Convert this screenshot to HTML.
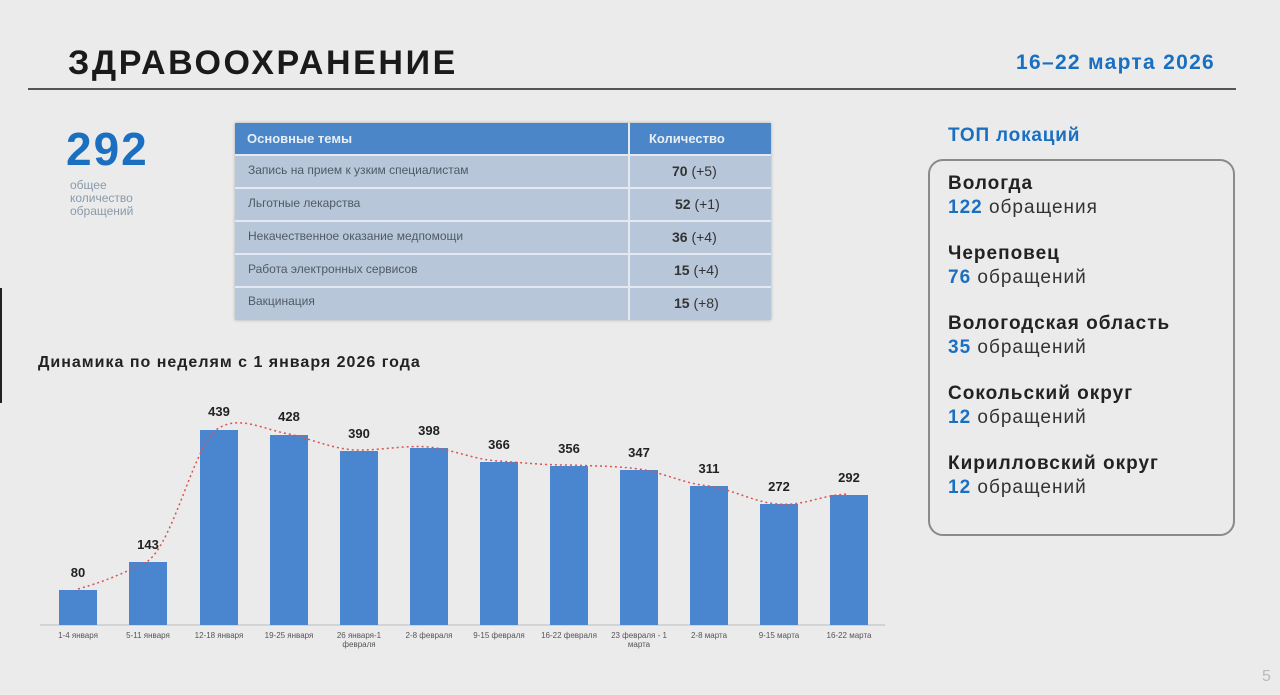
<!DOCTYPE html>
<html><head><meta charset="utf-8"><style>
body{margin:0;width:1280px;height:695px;background:#ebebeb;font-family:"Liberation Sans",sans-serif;position:relative;overflow:hidden}
.a{position:absolute}
</style></head><body>
<div class="a" style="left:68px;top:44px;font-size:34px;font-weight:bold;color:#1a1a1a;letter-spacing:2.6px">ЗДРАВООХРАНЕНИЕ</div>
<div class="a" style="left:1016px;top:51px;font-size:21px;font-weight:bold;color:#1a6fc0;letter-spacing:1.3px">16–22 марта 2026</div>
<div class="a" style="left:28px;top:88px;width:1208px;height:2px;background:#555"></div>
<div class="a" style="left:0;top:288px;width:2px;height:115px;background:#222"></div>
<div class="a" style="left:66px;top:122px;font-size:46px;font-weight:bold;color:#1a6fc0;letter-spacing:2px">292</div>
<div class="a" style="left:70px;top:179px;font-size:12px;line-height:13px;color:#8a9aaa">общее<br>количество<br>обращений</div>
<div class="a" style="left:235px;top:123px;width:536px;height:197px;background:#b7c6d8;box-shadow:0 0 3px #aaa"></div>
<div class="a" style="left:235px;top:123px;width:536px;height:31px;background:#4a86c8"></div>
<div class="a" style="left:628px;top:123px;width:2px;height:197px;background:#e4e9f0"></div>
<div class="a" style="left:247px;top:131px;font-size:13px;font-weight:bold;color:#e8eef6">Основные темы</div>
<div class="a" style="left:649px;top:131px;font-size:13px;font-weight:bold;color:#e8eef6">Количество</div>
<div class="a" style="left:235px;top:154px;width:536px;height:2px;background:#e4e9f0"></div>
<div class="a" style="left:235px;top:187px;width:536px;height:2px;background:#e4e9f0"></div>
<div class="a" style="left:235px;top:220px;width:536px;height:2px;background:#e4e9f0"></div>
<div class="a" style="left:235px;top:253px;width:536px;height:2px;background:#e4e9f0"></div>
<div class="a" style="left:235px;top:286px;width:536px;height:2px;background:#e4e9f0"></div>
<div class="a" style="left:248px;top:163px;font-size:12px;color:#505a66">Запись на прием к узким специалистам</div>
<div class="a" style="left:248px;top:196px;font-size:12px;color:#505a66">Льготные лекарства</div>
<div class="a" style="left:248px;top:229px;font-size:12px;color:#505a66">Некачественное оказание медпомощи</div>
<div class="a" style="left:248px;top:262px;font-size:12px;color:#505a66">Работа электронных сервисов</div>
<div class="a" style="left:248px;top:294px;font-size:12px;color:#505a66">Вакцинация</div>
<div class="a" style="left:672px;top:163px;font-size:14px;color:#333"><b>70</b> (+5)</div>
<div class="a" style="left:675px;top:196px;font-size:14px;color:#333"><b>52</b> (+1)</div>
<div class="a" style="left:672px;top:229px;font-size:14px;color:#333"><b>36</b> (+4)</div>
<div class="a" style="left:674px;top:262px;font-size:14px;color:#333"><b>15</b> (+4)</div>
<div class="a" style="left:674px;top:295px;font-size:14px;color:#333"><b>15</b> (+8)</div>
<div class="a" style="left:38px;top:354px;font-size:16px;font-weight:bold;color:#222;letter-spacing:1px">Динамика по неделям с 1 января 2026 года</div>
<div class="a" style="left:948px;top:125px;font-size:19px;font-weight:bold;color:#1a6fc0;letter-spacing:0.8px">ТОП локаций</div>
<div class="a" style="left:928px;top:159px;width:303px;height:373px;border:2px solid #8a8a8a;border-radius:15px"></div>
<div class="a" style="left:948px;top:172px;font-size:19px;line-height:24px;color:#333;letter-spacing:1px">
<div style="margin-bottom:22px"><b style="color:#222">Вологда</b><br><b style="color:#1a6fc0">122</b> обращения</div>
<div style="margin-bottom:22px"><b style="color:#222">Череповец</b><br><b style="color:#1a6fc0">76</b> обращений</div>
<div style="margin-bottom:22px"><b style="color:#222">Вологодская область</b><br><b style="color:#1a6fc0">35</b> обращений</div>
<div style="margin-bottom:22px"><b style="color:#222">Сокольский округ</b><br><b style="color:#1a6fc0">12</b> обращений</div>
<div><b style="color:#222">Кирилловский округ</b><br><b style="color:#1a6fc0">12</b> обращений</div>
</div>
<div class="a" style="left:1262px;top:668px;font-size:16px;color:#bbb">5</div>
<svg class="a" style="left:0;top:0" width="1280" height="695">
<line x1="40" y1="625" x2="885" y2="625" stroke="#bbb" stroke-width="1"/>
<g fill="#4a86cf">
<rect x="59" y="590" width="38" height="35"/>
<rect x="129" y="562" width="38" height="63"/>
<rect x="200" y="430" width="38" height="195"/>
<rect x="270" y="435" width="38" height="190"/>
<rect x="340" y="451" width="38" height="174"/>
<rect x="410" y="448" width="38" height="177"/>
<rect x="480" y="462" width="38" height="163"/>
<rect x="550" y="466" width="38" height="159"/>
<rect x="620" y="470" width="38" height="155"/>
<rect x="690" y="486" width="38" height="139"/>
<rect x="760" y="504" width="38" height="121"/>
<rect x="830" y="495" width="38" height="130"/>
</g>
<path d="M78,589 C110,580 130,570 148,561 C175,540 195,440 219,428 C240,415 265,430 289,434 C315,440 335,450 359,450 C385,450 405,445 429,447 C455,450 475,460 499,461 C525,463 545,465 569,465 C595,466 615,466 639,469 C665,473 685,484 709,486 C735,490 755,503 779,504 C805,506 820,495 849,494" fill="none" stroke="#d9534f" stroke-width="1.5" stroke-dasharray="2,3"/>
<g font-family="Liberation Sans" font-weight="bold" font-size="13" fill="#222" text-anchor="middle">
<text x="78" y="577">80</text><text x="148" y="549">143</text><text x="219" y="416">439</text><text x="289" y="421">428</text><text x="359" y="438">390</text><text x="429" y="435">398</text><text x="499" y="449">366</text><text x="569" y="453">356</text><text x="639" y="457">347</text><text x="709" y="473">311</text><text x="779" y="491">272</text><text x="849" y="482">292</text>
</g>
<g font-family="Liberation Sans" font-size="8" fill="#555" text-anchor="middle">
<text x="78" y="638">1-4 января</text><text x="148" y="638">5-11 января</text><text x="219" y="638">12-18 января</text><text x="289" y="638">19-25 января</text><text x="359" y="638">26 января-1</text><text x="359" y="647">февраля</text><text x="429" y="638">2-8 февраля</text><text x="499" y="638">9-15 февраля</text><text x="569" y="638">16-22 февраля</text><text x="639" y="638">23 февраля - 1</text><text x="639" y="647">марта</text><text x="709" y="638">2-8 марта</text><text x="779" y="638">9-15 марта</text><text x="849" y="638">16-22 марта</text>
</g>
</svg>
</body></html>
